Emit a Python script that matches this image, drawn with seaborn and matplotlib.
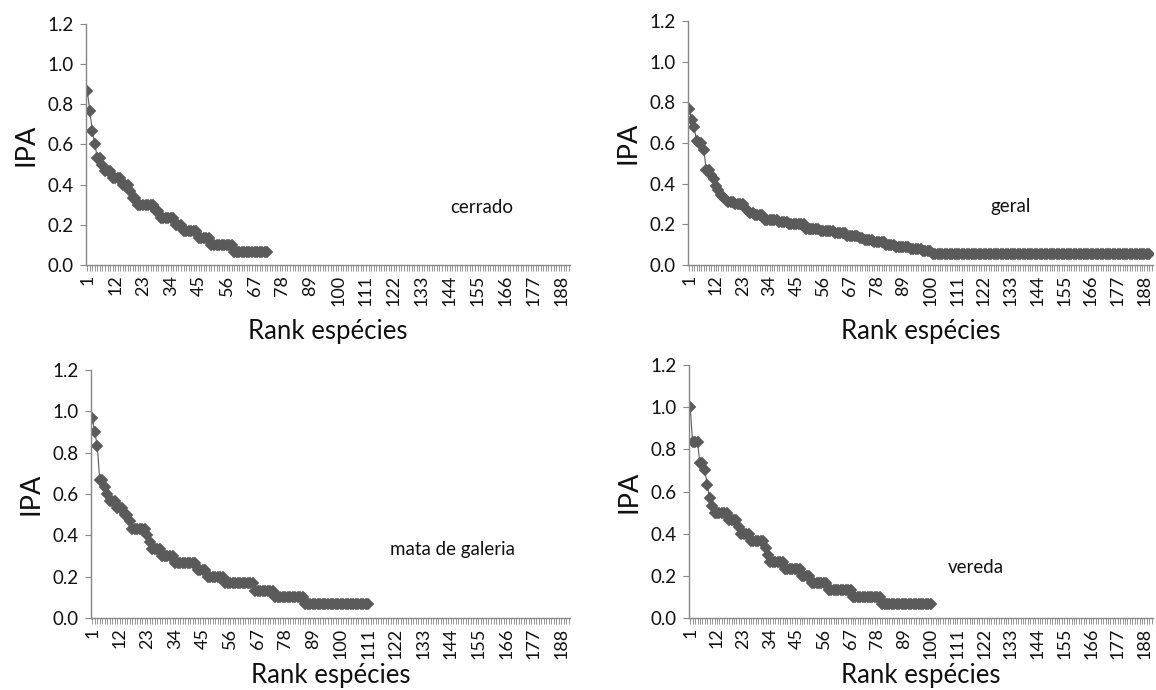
import numpy as np
import pandas as pd
import matplotlib
matplotlib.use("Agg")
import matplotlib.pyplot as plt
import seaborn as sns

# ---------------- data (run-length encoded rank/abundance curves) ----------------
N_RANKS = 191
tick_ranks = [1, 12, 23, 34, 45, 56, 67, 78, 89, 100, 111, 122, 133, 144, 155, 166, 177, 188]
tick_labels = [str(t) for t in tick_ranks]
y_ticks = [0.0, 0.2, 0.4, 0.6, 0.8, 1.0, 1.2]

cerrado_vals = [0.867, 0.767, 0.667, 0.600, 0.533, 0.500, 0.467, 0.433, 0.400, 0.367,
                0.333, 0.300, 0.267, 0.233, 0.200, 0.167, 0.133, 0.100, 0.067]
cerrado_counts = [1, 1, 1, 1, 2, 1, 3, 4, 3, 1, 2, 7, 2, 6, 3, 6, 5, 9, 14]

geral_vals = [0.767, 0.711, 0.678, 0.611, 0.600, 0.567, 0.467, 0.444, 0.422, 0.389,
              0.367, 0.344, 0.333, 0.322, 0.311, 0.300, 0.278, 0.267, 0.256, 0.244,
              0.222, 0.211, 0.200, 0.178, 0.167, 0.156, 0.144, 0.133, 0.122, 0.111,
              0.100, 0.089, 0.078, 0.067, 0.056]
geral_counts = [1, 1, 1, 1, 2, 1, 2, 1, 1, 1,
                1, 1, 1, 1, 3, 4, 1, 1, 2, 4,
                6, 4, 7, 6, 6, 5, 5, 2, 4, 5,
                4, 6, 5, 4, 90]

mata_vals = [0.967, 0.900, 0.833, 0.667, 0.633, 0.600, 0.567, 0.533, 0.500, 0.467,
             0.433, 0.400, 0.367, 0.333, 0.300, 0.267, 0.233, 0.200, 0.167, 0.133,
             0.100, 0.067]
mata_counts = [1, 1, 1, 2, 1, 1, 3, 3, 2, 1,
               6, 1, 1, 4, 5, 9, 4, 7, 12, 8,
               12, 26]

vereda_vals = [1.000, 0.833, 0.733, 0.700, 0.633, 0.567, 0.533, 0.500, 0.467, 0.433,
               0.400, 0.367, 0.333, 0.300, 0.267, 0.233, 0.200, 0.167, 0.133, 0.100,
               0.067]
vereda_counts = [1, 3, 2, 1, 1, 1, 1, 6, 4, 1,
                 4, 6, 1, 1, 6, 7, 4, 7, 10, 12,
                 21]

panel_names = ["cerrado", "geral", "mata de galeria", "vereda"]
x_label = "Rank espécies"
y_label = "IPA"

# ---------------- style ----------------
sns.set_style("white")
plt.rcParams["font.family"] = ["Lato", "DejaVu Sans"]

GRAY_AX = "#868686"
MARK = "#5a5a5a"
TXT = "#111111"

fig = plt.figure(figsize=(11.56, 6.9), dpi=100)
W, H = 1156, 690

def px_axes(x0, x1, ytop, ybot):
    return fig.add_axes([x0 / W, 1 - ybot / H, (x1 - x0) / W, (ybot - ytop) / H])

panels = [
    dict(box=(86, 570, 24, 265), vals=cerrado_vals, counts=cerrado_counts,
         name=panel_names[0], txt=(0.752, 0.24), xpad=9),
    dict(box=(688, 1153, 21, 265), vals=geral_vals, counts=geral_counts,
         name=panel_names[1], txt=(0.651, 0.24), xpad=9),
    dict(box=(91, 570, 370, 618), vals=mata_vals, counts=mata_counts,
         name=panel_names[2], txt=(0.625, 0.275), xpad=3),
    dict(box=(689, 1153, 365, 618), vals=vereda_vals, counts=vereda_counts,
         name=panel_names[3], txt=(0.557, 0.2), xpad=3),
]

for p in panels:
    ax = px_axes(*p["box"])
    y = np.repeat(p["vals"], p["counts"])
    df = pd.DataFrame({"rank": np.arange(1, len(y) + 1), "ipa": y})
    sns.lineplot(data=df, x="rank", y="ipa", ax=ax, color=MARK, linewidth=0.8,
                 marker="D", markersize=6, markeredgecolor=MARK,
                 markerfacecolor=MARK, markeredgewidth=0.3)
    ax.set_xlim(0.5, N_RANKS + 0.5)
    ax.set_ylim(0, 1.2)
    ax.set_yticks(y_ticks)
    ax.set_yticklabels([f"{v:.1f}" for v in y_ticks], fontsize=13.5, color=TXT)
    ax.set_xticks(tick_ranks)
    ax.set_xticklabels(tick_labels, rotation=90, fontsize=13, color=TXT)
    ax.set_xticks(np.arange(1, N_RANKS + 1), minor=True)
    ax.tick_params(axis="x", which="both", direction="out", length=4, width=0.6,
                   color=GRAY_AX, pad=3, bottom=True)
    ax.tick_params(axis="y", which="major", direction="out", length=4, width=0.8,
                   color=GRAY_AX, pad=5, left=True)
    for s in ["top", "right"]:
        ax.spines[s].set_visible(False)
    for s in ["left", "bottom"]:
        ax.spines[s].set_color(GRAY_AX)
        ax.spines[s].set_linewidth(1.0)
    ax.set_xlabel(x_label, fontsize=18.5, color=TXT, labelpad=p["xpad"])
    ax.set_ylabel(y_label, fontsize=19.5, color=TXT, labelpad=6)
    ax.text(p["txt"][0], p["txt"][1], p["name"], transform=ax.transAxes,
            fontsize=13.5, ha="left", va="center", color=TXT)
    ax.grid(False)

fig.savefig("out.png", dpi=100)
